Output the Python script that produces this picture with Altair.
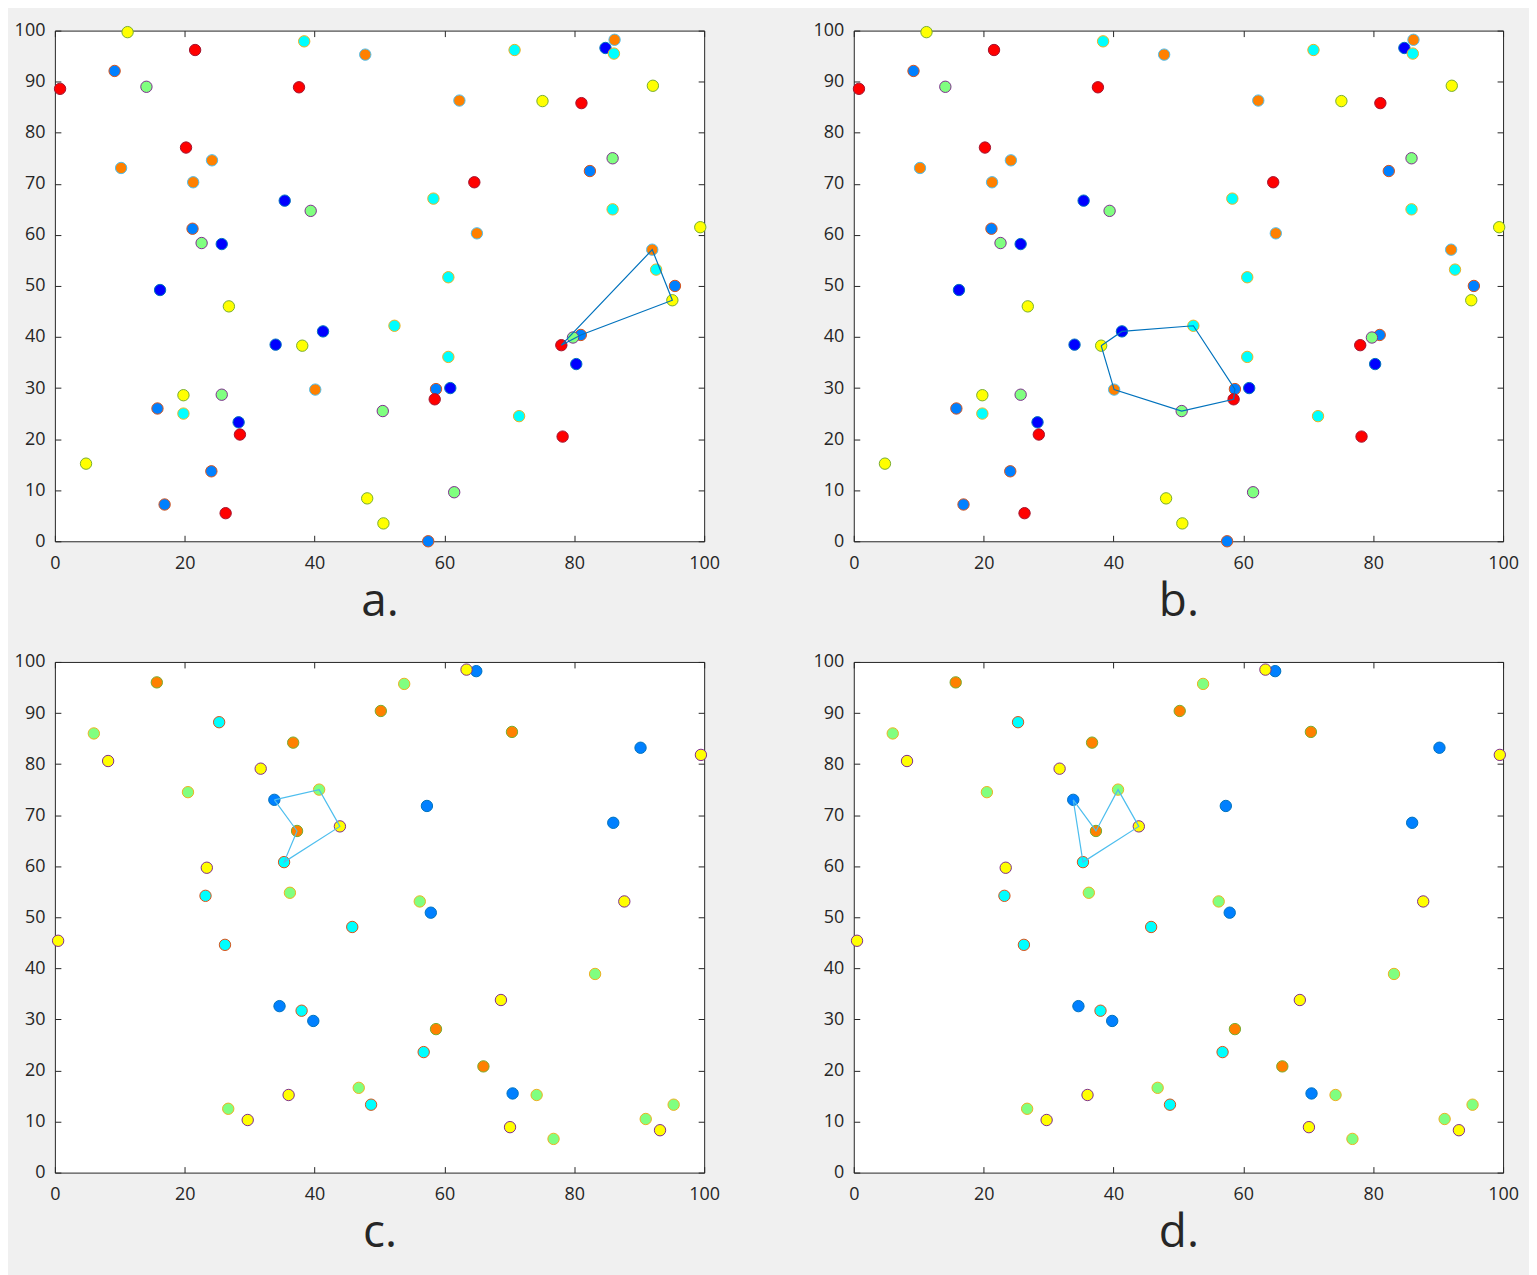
import altair as alt
import pandas as pd

# ---------------- data: point set 1 (panels a and b) ----------------
s1_x = [11.2, 21.6, 38.4, 47.8, 70.8, 84.8, 86.2, 86.1,
        0.8, 9.2, 14.1, 37.6, 62.3, 75.1, 81.1, 92.1,
        20.2, 24.2, 10.2, 21.3, 64.6, 82.4, 85.9,
        35.4, 39.4, 58.3, 85.9, 21.2, 22.6, 25.7, 65.0, 99.4,
        92.0, 92.6, 60.6, 95.5, 16.2, 26.8, 95.1,
        52.3, 41.3, 34.0, 38.1, 79.8, 81.0, 78.0, 60.6, 80.3,
        40.1, 25.7, 19.8, 58.7, 60.9, 58.5, 15.8, 19.8, 50.5, 71.5, 28.3, 28.5, 78.2,
        4.8, 24.1, 61.5, 48.1, 16.9, 26.3, 50.6, 57.5]
s1_y = [99.7, 96.2, 97.9, 95.3, 96.2, 96.6, 98.2, 95.5,
        88.6, 92.1, 89.0, 88.9, 86.3, 86.2, 85.8, 89.2,
        77.1, 74.6, 73.1, 70.3, 70.3, 72.5, 75.0,
        66.7, 64.7, 67.1, 65.0, 61.2, 58.4, 58.2, 60.3, 61.5,
        57.1, 53.2, 51.7, 50.0, 49.2, 46.0, 47.2,
        42.2, 41.1, 38.5, 38.3, 39.9, 40.4, 38.4, 36.1, 34.7,
        29.7, 28.7, 28.6, 29.8, 30.0, 27.8, 26.0, 25.0, 25.5, 24.5, 23.3, 20.9, 20.5,
        15.2, 13.7, 9.6, 8.4, 7.2, 5.5, 3.5, 0.0]
s1_k = ["yellow", "red", "cyan", "orange", "cyan", "blue", "orange", "cyan",
        "red", "dodger", "green", "red", "orange", "yellow", "red", "yellow",
        "red", "orange", "orange", "orange", "red", "dodger", "green",
        "blue", "green", "cyan", "cyan", "dodger", "green", "blue", "orange", "yellow",
        "orange", "cyan", "cyan", "dodger", "blue", "yellow", "yellow",
        "cyan", "blue", "blue", "yellow", "green", "dodger", "red", "cyan", "blue",
        "orange", "green", "yellow", "dodger", "blue", "red", "dodger", "cyan", "green", "cyan", "blue", "red", "red",
        "yellow", "dodger", "green", "yellow", "dodger", "red", "yellow", "dodger"]
s1_names = ["blue", "dodger", "cyan", "green", "yellow", "orange", "red"]
s1_fill = ["#0000FF", "#0080FF", "#00FFFF", "#80FF80", "#FFFF00", "#FF8000", "#FF0000"]
s1_edge = ["#0072BD", "#D95319", "#EDB120", "#7E2F8E", "#77AC30", "#4DBEEE", "#A2142F"]

# polygons for panels a and b (closed)
poly_a_x = [78.0, 92.0, 95.1, 81.0, 78.0]
poly_a_y = [38.4, 57.1, 47.2, 40.4, 38.4]
poly_b_x = [38.1, 41.3, 52.3, 58.7, 58.5, 50.5, 40.1, 38.1]
poly_b_y = [38.3, 41.1, 42.2, 29.8, 27.8, 25.5, 29.7, 38.3]

# ---------------- data: point set 2 (panels c and d) ----------------
s2_x = [15.7, 6.0, 25.3, 8.2, 36.7, 31.7, 20.5, 33.8, 40.7, 43.9, 37.3, 35.3, 23.4, 23.2, 36.2,
        63.4, 64.9, 53.8, 50.2, 70.4, 90.2, 99.5, 57.3, 86.0, 56.2, 57.9, 87.7,
        0.5, 26.2, 45.8, 34.6, 38.0, 39.8, 46.8, 36.0, 48.7, 26.7, 29.7,
        83.2, 68.7, 58.7, 56.8, 66.0, 70.5, 74.2, 70.1, 76.8, 91.0, 93.2, 95.3]
s2_y = [96.0, 86.0, 88.2, 80.6, 84.2, 79.1, 74.5, 73.0, 75.0, 67.8, 66.9, 60.8, 59.7, 54.2, 54.8,
        98.5, 98.2, 95.7, 90.4, 86.3, 83.2, 81.8, 71.8, 68.5, 53.1, 50.9, 53.1,
        45.4, 44.6, 48.1, 32.6, 31.7, 29.7, 16.6, 15.2, 13.3, 12.5, 10.3,
        38.9, 33.8, 28.1, 23.6, 20.8, 15.5, 15.2, 8.9, 6.6, 10.5, 8.3, 13.3]
s2_k = ["orange", "green", "cyan", "yellow", "orange", "yellow", "green", "blue", "green", "yellow",
        "orange", "cyan", "yellow", "cyan", "green",
        "yellow", "blue", "green", "orange", "orange", "blue", "yellow", "blue", "blue", "green", "blue", "yellow",
        "yellow", "cyan", "cyan", "blue", "cyan", "blue", "green", "yellow", "cyan", "green", "yellow",
        "green", "yellow", "orange", "cyan", "orange", "blue", "green", "yellow", "green", "green", "yellow", "green"]
s2_names = ["blue", "cyan", "green", "yellow", "orange"]
s2_fill = ["#0080FF", "#00FFFF", "#80FF80", "#FFFF00", "#FF8000"]
s2_edge = ["#0072BD", "#D95319", "#EDB120", "#7E2F8E", "#77AC30"]

poly_c_x = [33.8, 40.7, 43.9, 35.3, 37.3, 33.8]
poly_c_y = [73.0, 75.0, 67.8, 60.8, 66.9, 73.0]
poly_d_x = [33.8, 37.3, 40.7, 43.9, 35.3, 33.8]
poly_d_y = [73.0, 66.9, 75.0, 67.8, 60.8, 73.0]

x_ticks = [0, 20, 40, 60, 80, 100]
y_ticks = [0, 10, 20, 30, 40, 50, 60, 70, 80, 90, 100]

FONT = "Open Sans"
TXT = "#262626"
W, H = 651, 512
TICK = 6


def panel(xs, ys, ks, names, fills, edges, px, py, line_color, label):
    pts = pd.DataFrame({"x": xs, "y": ys, "k": ks})
    pts["r"] = [names.index(k) for k in ks]
    poly = pd.DataFrame({"x": px, "y": py, "i": list(range(len(px)))})
    xsc = alt.Scale(domain=[0, 100], nice=False, zero=False)
    ysc = alt.Scale(domain=[0, 100], nice=False, zero=False)
    points = alt.Chart(pts).mark_circle(size=130, opacity=1, strokeWidth=1).encode(
        x=alt.X("x:Q", scale=xsc, axis=alt.Axis(
            orient="bottom", values=x_ticks, offset=-TICK, tickSize=TICK, domain=False,
            labelFlush=False, labelPadding=13, title=label, titleFontSize=46, titleFont=FONT,
            titleFontWeight="normal", titleColor=TXT, titlePadding=7)),
        y=alt.Y("y:Q", scale=ysc, axis=alt.Axis(
            orient="left", values=y_ticks, offset=-TICK, tickSize=TICK, domain=False,
            labelFlush=False, labelPadding=10, title=None)),
        fill=alt.Fill("k:N", scale=alt.Scale(domain=names, range=fills), legend=None),
        stroke=alt.Stroke("k:N", scale=alt.Scale(domain=names, range=edges), legend=None),
        order=alt.Order("r:Q"),
    )
    line = alt.Chart(poly).mark_line(color=line_color, strokeWidth=1.2).encode(
        x=alt.X("x:Q", scale=xsc, axis=alt.Axis(
            orient="top", values=x_ticks, offset=-TICK, tickSize=TICK, domain=False,
            labels=False, title=None)),
        y=alt.Y("y:Q", scale=ysc, axis=alt.Axis(
            orient="right", values=y_ticks, offset=-TICK, tickSize=TICK, domain=False,
            labels=False, title=None)),
        order=alt.Order("i:Q"),
    )
    return alt.layer(points, line).resolve_axis(x="independent", y="independent").properties(
        width=W, height=H)


pa = panel(s1_x, s1_y, s1_k, s1_names, s1_fill, s1_edge, poly_a_x, poly_a_y, "#0072BD", "a.")
pb = panel(s1_x, s1_y, s1_k, s1_names, s1_fill, s1_edge, poly_b_x, poly_b_y, "#0072BD", "b.")
pc = panel(s2_x, s2_y, s2_k, s2_names, s2_fill, s2_edge, poly_c_x, poly_c_y, "#4DBEEE", "c.")
pd_ = panel(s2_x, s2_y, s2_k, s2_names, s2_fill, s2_edge, poly_d_x, poly_d_y, "#4DBEEE", "d.")

chart = alt.concat(pa, pb, pc, pd_, columns=2, spacing={"row": 121, "column": 150},
                   bounds="flush").resolve_scale(
    fill="independent", stroke="independent"
).properties(
    background="#F0F0F0",
    padding={"left": 5, "top": 11, "right": 10, "bottom": 20},
).configure_view(
    fill="white", stroke="#262626", strokeWidth=1
).configure_axis(
    grid=False, labelFont=FONT, labelFontSize=18, labelColor=TXT,
    tickColor=TXT, tickWidth=1, titleFont=FONT
)

chart.save("out.html", embed_options={"renderer": "svg", "actions": False})
